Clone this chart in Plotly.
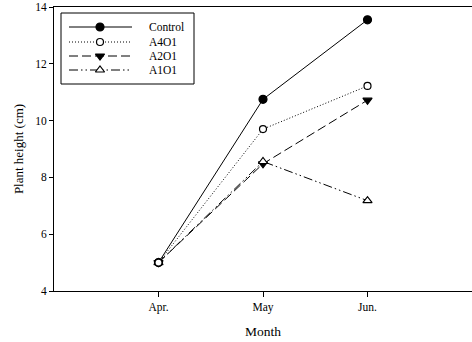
import plotly.graph_objects as go

months = ["Apr.", "May", "Jun."]
month_pos = [1, 2, 3]
control = [5.0, 10.75, 13.55]
a4o1 = [5.0, 9.70, 11.22]
a2o1 = [5.0, 8.48, 10.72]
a1o1 = [5.0, 8.56, 7.18]
series_names = ["Control", "A4O1", "A2O1", "A1O1"]
y_ticks = [4, 6, 8, 10, 12, 14]

W, H = 472, 342
L, R, T, B = 54, 0, 7, 51
PW, PH = W - L - R, H - T - B

def px(X):
    return (X - L) / PW

def py(Y):
    return (H - B - Y) / PH

styles = [
    dict(dash="solid", symbol="circle", fill="black", size=8),
    dict(dash="1px,2px", symbol="circle", fill="white", size=7),
    dict(dash="9px,4px", symbol="triangle-down", fill="black", size=8),
    dict(dash="9px,3px,1.5px,3px,1.5px,3px", symbol="triangle-up", fill="white", size=8),
]
data = [control, a4o1, a2o1, a1o1]
draw_order = [0, 2, 3, 1]

fig = go.Figure()
for i in draw_order:
    name, vals, st = series_names[i], data[i], styles[i]
    fig.add_trace(go.Scatter(
        x=month_pos, y=vals, mode="lines+markers", name=name, showlegend=False,
        line=dict(color="black", width=1, dash=st["dash"]),
        marker=dict(symbol=st["symbol"], size=st["size"], color=st["fill"],
                    line=dict(color="black", width=1.2)),
        cliponaxis=False,
    ))

# manual legend
font = "Liberation Serif, Times New Roman, serif"
row_y = [27, 42, 56, 70]
shapes = [dict(type="rect", xref="paper", yref="paper", x0=px(61), x1=px(194),
               y0=py(84), y1=py(13), line=dict(color="black", width=1), fillcolor="white",
               layer="below")]
for name, st, ry in zip(series_names, styles, row_y):
    shapes.append(dict(type="line", xref="paper", yref="paper", x0=px(69), x1=px(132),
                       y0=py(ry), y1=py(ry), line=dict(color="black", width=1, dash=st["dash"]),
                       layer="below"))
    fig.add_annotation(x=px(147), y=py(ry), xref="paper", yref="paper", text=name,
                       showarrow=False, xanchor="left", yanchor="middle",
                       font=dict(family=font, size=11.5, color="black"))
for name, st, ry in zip(series_names, styles, row_y):
    fig.add_trace(go.Scatter(
        x=[px(100)], y=[py(ry)], xaxis="x2", yaxis="y2", mode="markers", showlegend=False,
        marker=dict(symbol=st["symbol"], size=st["size"], color=st["fill"],
                    line=dict(color="black", width=1.2)),
        cliponaxis=False, hoverinfo="skip",
    ))

fig.update_layout(
    width=W, height=H, margin=dict(l=L, r=R, t=T, b=B),
    paper_bgcolor="white", plot_bgcolor="white",
    font=dict(family=font, size=11.5, color="black"),
    shapes=shapes,
    xaxis=dict(range=[0, 4], tickvals=month_pos, ticktext=months, showgrid=False,
               zeroline=False, showline=True, linecolor="black", linewidth=1, mirror=True,
               ticks="outside", ticklen=5, tickcolor="black",
               tickfont=dict(family=font, size=11.5),
               title=dict(text="Month", font=dict(family=font, size=13.5), standoff=13)),
    yaxis=dict(range=[4, 14], tickvals=y_ticks, showgrid=False, zeroline=False,
               showline=True, linecolor="black", linewidth=1, ticks="outside", ticklen=4,
               tickcolor="black", tickfont=dict(family=font, size=11.5),
               title=dict(text="Plant height (cm)", font=dict(family=font, size=13), standoff=8)),
    xaxis2=dict(range=[0, 1], overlaying="x", visible=False),
    yaxis2=dict(range=[0, 1], overlaying="y", visible=False),
)

fig.write_html("out.html")
